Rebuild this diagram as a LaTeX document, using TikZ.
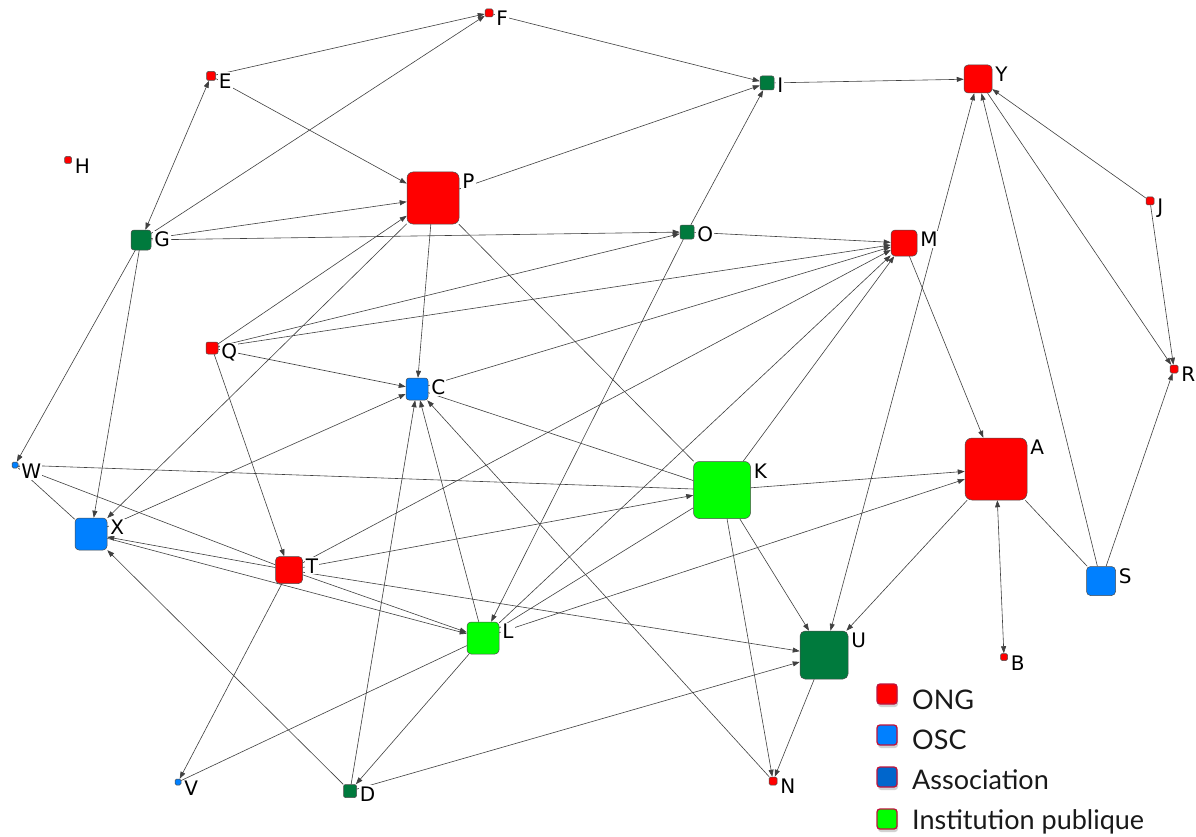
\documentclass[tikz,border=0pt]{standalone}
\usepackage{fontspec}
\setmainfont{DejaVu Sans}
\newfontfamily\legfont{Lato}
\usetikzlibrary{arrows.meta,shadows}
\pgfdeclarelayer{back}
\pgfdeclarelayer{bg}
\pgfsetlayers{back,bg,main}
\definecolor{ngo}{RGB}{255,0,0}
\definecolor{osc}{RGB}{0,128,255}
\definecolor{assoc}{RGB}{0,102,204}
\definecolor{dkg}{RGB}{0,122,61}
\definecolor{inst}{RGB}{0,255,0}
\definecolor{legborder}{RGB}{190,20,60}
\begin{document}
\begin{tikzpicture}[x=1pt,y=-1pt,
  nd/.style={rectangle,draw=black!70,line width=0.5pt,fill=#1,inner sep=0pt},
  lbl/.style={anchor=north west,fill=white,inner sep=1pt,font=\fontsize{20}{22}\selectfont},
  ln/.style={draw=black!75,line width=0.6pt},
  ar/.style={ln,-{Triangle[length=7pt,width=5pt]}},
  ab/.style={ln,{Triangle[length=7pt,width=5pt]}-{Triangle[length=7pt,width=5pt]}},
  legsq/.style={rectangle,draw=legborder,line width=1.3pt,fill=#1,minimum size=20pt,inner sep=0pt,rounded corners=3pt,drop shadow={opacity=0.35,shadow xshift=1pt,shadow yshift=-3pt}},
  legtxt/.style={anchor=base west,inner sep=0pt,text=black!90,font=\legfont\fontsize{27}{30}\selectfont}
]
\begin{pgfonlayer}{back}
\fill[white] (0,0) rectangle (1196,837);
\end{pgfonlayer}
\useasboundingbox (0,0) rectangle (1196,837);
% nodes
\node[nd=ngo, minimum size=8pt, rounded corners=1.5pt] (F) at (489,13) {};
\node[nd=ngo, minimum size=9pt, rounded corners=1.5pt] (E) at (211,76) {};
\node[nd=ngo, minimum size=7pt, rounded corners=1.5pt] (H) at (68,160) {};
\node[nd=dkg, minimum size=14pt, rounded corners=2pt] (I) at (767,83) {};
\node[nd=ngo, minimum size=28pt, rounded corners=4pt] (Y) at (978,79) {};
\node[nd=ngo, minimum size=52pt, rounded corners=6pt] (P) at (433,198) {};
\node[nd=dkg, minimum size=20pt, rounded corners=3pt] (G) at (141,240) {};
\node[nd=dkg, minimum size=14pt, rounded corners=2pt] (O) at (687,232) {};
\node[nd=ngo, minimum size=26pt, rounded corners=4pt] (M) at (904,243) {};
\node[nd=ngo, minimum size=8pt, rounded corners=1.5pt] (J) at (1150,201) {};
\node[nd=ngo, minimum size=12pt, rounded corners=2pt] (Q) at (212,348) {};
\node[nd=osc, minimum size=22pt, rounded corners=3pt] (C) at (417,389) {};
\node[nd=ngo, minimum size=8pt, rounded corners=1.5pt] (R) at (1174,369) {};
\node[nd=osc, minimum size=6pt, rounded corners=1.5pt] (W) at (15,465) {};
\node[nd=inst, minimum size=57pt, rounded corners=6pt] (K) at (722,490) {};
\node[nd=ngo, minimum size=62pt, rounded corners=7pt] (A) at (996,469) {};
\node[nd=osc, minimum size=32pt, rounded corners=4pt] (X) at (91,534) {};
\node[nd=ngo, minimum size=27pt, rounded corners=4pt] (T) at (289,570) {};
\node[nd=osc, minimum size=29pt, rounded corners=4pt] (S) at (1101,581) {};
\node[nd=inst, minimum size=32pt, rounded corners=4pt] (L) at (483,638) {};
\node[nd=dkg, minimum size=48pt, rounded corners=5pt] (U) at (824,655) {};
\node[nd=ngo, minimum size=7pt, rounded corners=1.5pt] (B) at (1004,657) {};
\node[nd=osc, minimum size=6pt, rounded corners=1.5pt] (V) at (178,782) {};
\node[nd=dkg, minimum size=13pt, rounded corners=2pt] (D) at (350,791) {};
\node[nd=ngo, minimum size=8pt, rounded corners=1.5pt] (N) at (773,781) {};
% edges
\begin{pgfonlayer}{bg}
\draw[ar] (E) -- (F);
\draw[ar] (G) -- (F);
\draw[ab] (E) -- (G);
\draw[ar] (E) -- (P);
\draw[ar] (F) -- (I);
\draw[ar] (P) -- (I);
\draw[ar] (I) -- (Y);
\draw[ar] (O) -- (I);
\draw[ar] (G) -- (P);
\draw[ar] (G) -- (O);
\draw[ar] (O) -- (M);
\draw[ar] (G) -- (W);
\draw[ar] (G) -- (X);
\draw[ar] (Q) -- (P);
\draw[ar] (Q) -- (O);
\draw[ar] (Q) -- (M);
\draw[ar] (Q) -- (C);
\draw[ar] (Q) -- (T);
\draw[ar] (P) -- (C);
\draw[ln] (P) -- (K);
\draw[ar] (P) -- (X);
\draw[ar] (C) -- (M);
\draw[ln] (C) -- (K);
\draw[ar] (N) -- (C);
\draw[ar] (L) -- (C);
\draw[ar] (D) -- (C);
\draw[ln] (W) -- (K);
\draw[ar] (T) -- (K);
\draw[ar] (K) -- (A);
\draw[ar] (L) -- (A);
\draw[ar] (A) -- (U);
\draw[ab] (A) -- (B);
\draw[ln] (A) -- (S);
\draw[ar] (S) -- (Y);
\draw[ar] (S) -- (R);
\draw[ar] (Y) -- (R);
\draw[ar] (J) -- (R);
\draw[ar] (J) -- (Y);
\draw[ab] (U) -- (Y);
\draw[ar] (M) -- (A);
\draw[ar] (T) -- (M);
\draw[ar] (L) -- (M);
\draw[ar] (K) -- (M);
\draw[ar] (T) -- (X);
\draw[ar] (X) -- (L);
\draw[ar] (D) -- (X);
\draw[ln] (W) -- (T);
\draw[ln] (W) -- (X);
\draw[ar] (T) -- (L);
\draw[ar] (T) -- (U);
\draw[ar] (T) -- (V);
\draw[ar] (D) -- (U);
\draw[ln] (L) -- (V);
\draw[ar] (L) -- (D);
\draw[ar] (O) -- (L);
\draw[ln] (L) -- (K);
\draw[ar] (X) -- (C);
\draw[ar] (K) -- (N);
\draw[ar] (U) -- (N);
\draw[ar] (K) -- (U);
\end{pgfonlayer}
% labels
\foreach \n in {A,B,C,D,E,F,G,H,I,J,K,L,M,N,O,P,Q,R,S,T,U,V,W,X,Y}{
  \node[lbl] (lab\n) at ([xshift=2pt,yshift=-1pt]\n.north east) {\n};
}
% legend
\node[legsq=ngo] (k1) at (887,694) {};
\node[legsq=osc] (k2) at (887,735) {};
\node[legsq=assoc] (k3) at (887,777) {};
\node[legsq=inst] (k4) at (887,819) {};
\node[legtxt] (t1) at (912,709) {ONG};
\node[legtxt] (t2) at (912,749) {OSC};
\node[legtxt] (t3) at (912,789) {Association};
\node[legtxt] (t4) at (912,829) {Institution publique};
\end{tikzpicture}
\end{document}
